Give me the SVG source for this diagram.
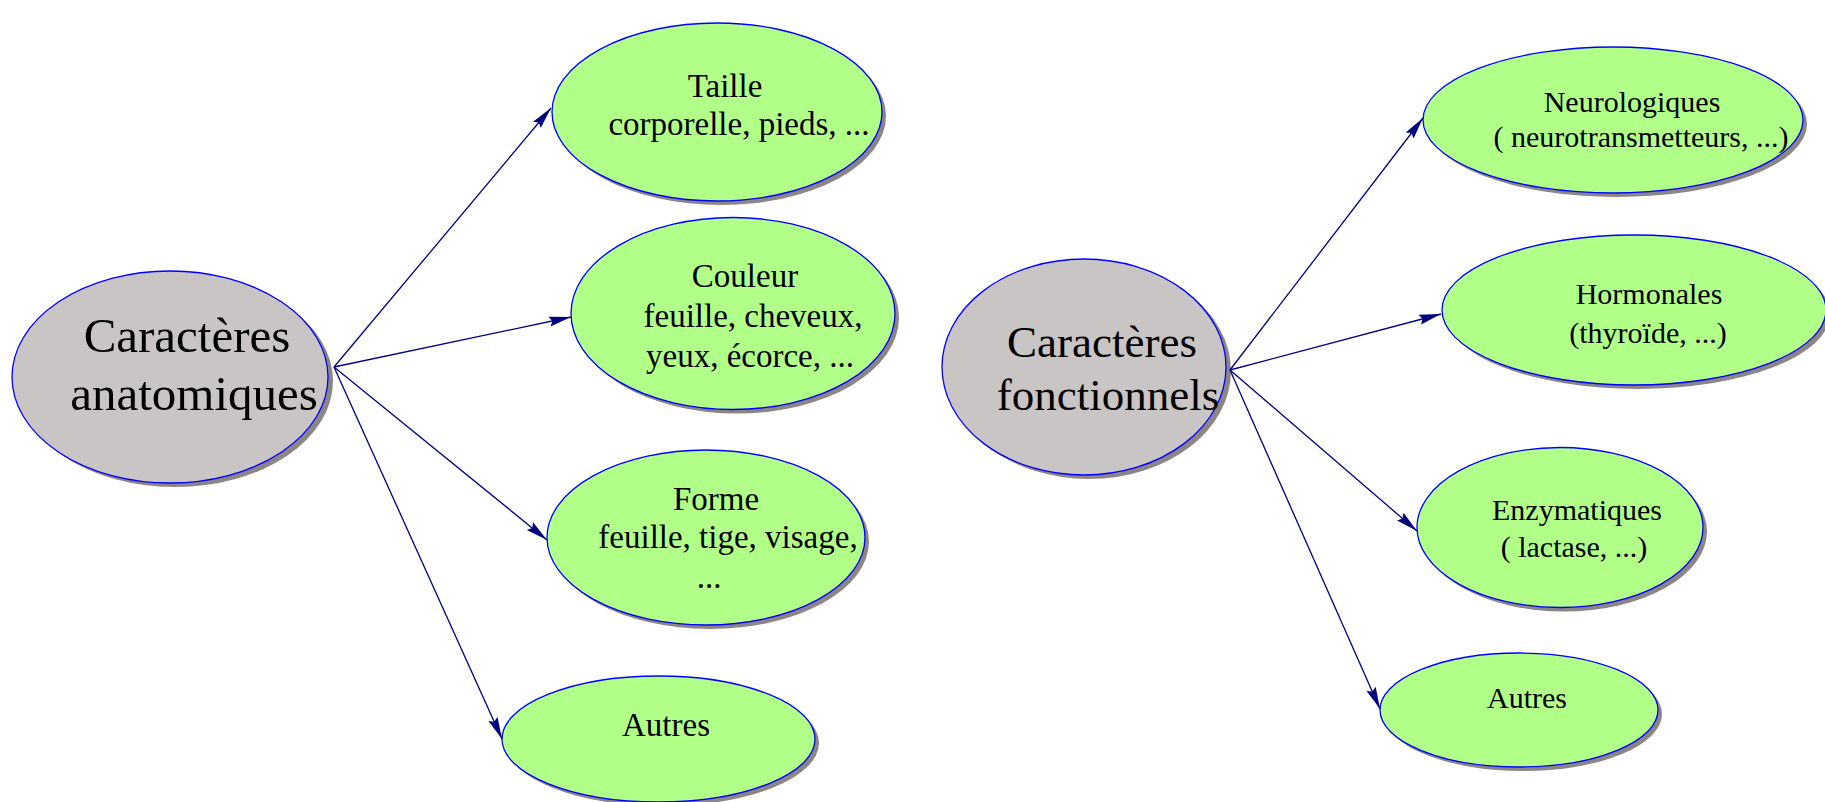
<svg xmlns="http://www.w3.org/2000/svg" width="1825" height="802" viewBox="0 0 1825 802">
<defs>
<style>
.sh{fill:#8c8585;}
.main{fill:#c9c5c5;stroke:#0000ff;stroke-width:1.3;}
.sub{fill:#b1ff88;stroke:#0000ff;stroke-width:1.3;}
text{font-family:"Liberation Serif","Times New Roman",serif;fill:#000;text-anchor:middle;}
.t49{font-size:49px;}
.t45{font-size:45px;}
.t33{font-size:33px;}
.t30{font-size:30px;}
.conn line{stroke:#000080;stroke-width:1.3;marker-end:url(#ah);}
</style>
<marker id="ah" markerUnits="userSpaceOnUse" viewBox="-22 -6 23 12" refX="0" refY="0" markerWidth="23" markerHeight="12" orient="auto">
<path d="M0,0 L-22,-5 L-19,0 L-22,5 Z" fill="#000080"/>
</marker>
</defs>
<rect width="1825" height="802" fill="#ffffff"/>

<g id="n-anatomiques">
<ellipse class="sh" cx="175" cy="381" rx="158" ry="106"/>
<ellipse class="main" cx="170" cy="377" rx="158" ry="106"/>
<text class="t49" x="187" y="352">Caractères</text>
<text class="t49" x="194" y="410">anatomiques</text>
</g>

<g id="n-taille">
<ellipse class="sh" cx="721" cy="116" rx="165" ry="89"/>
<ellipse class="sub" cx="717" cy="112" rx="165" ry="89"/>
<text class="t33" x="725" y="97">Taille</text>
<text class="t33" x="739" y="135">corporelle, pieds, ...</text>
</g>

<g id="n-couleur">
<ellipse class="sh" cx="737" cy="317.5" rx="162" ry="96"/>
<ellipse class="sub" cx="733" cy="313.5" rx="162" ry="96"/>
<text class="t33" x="745" y="287">Couleur</text>
<text class="t33" x="753" y="327">feuille, cheveux,</text>
<text class="t33" x="750" y="367">yeux, écorce, ...</text>
</g>

<g id="n-forme">
<ellipse class="sh" cx="710" cy="541.5" rx="159" ry="87.5"/>
<ellipse class="sub" cx="706" cy="537.5" rx="159" ry="87.5"/>
<text class="t33" x="716" y="510">Forme</text>
<text class="t33" x="728" y="548">feuille, tige, visage,</text>
<text class="t33" x="709" y="588">...</text>
</g>

<g id="n-autres1">
<ellipse class="sh" cx="662.5" cy="743" rx="156.5" ry="63"/>
<ellipse class="sub" cx="658.5" cy="739" rx="156.5" ry="63"/>
<text class="t33" x="666" y="736">Autres</text>
</g>

<g id="n-fonctionnels">
<ellipse class="sh" cx="1089" cy="371" rx="142" ry="108"/>
<ellipse class="main" cx="1084" cy="367" rx="142" ry="108"/>
<text class="t45" x="1102" y="357">Caractères</text>
<text class="t45" x="1108" y="410">fonctionnels</text>
</g>

<g id="n-neuro">
<ellipse class="sh" cx="1617" cy="124" rx="190" ry="73"/>
<ellipse class="sub" cx="1613" cy="120" rx="190" ry="73"/>
<text class="t30" x="1632" y="112">Neurologiques</text>
<text class="t30" x="1641" y="147">( neurotransmetteurs, ...)</text>
</g>

<g id="n-hormo">
<ellipse class="sh" cx="1638" cy="314" rx="192" ry="75"/>
<ellipse class="sub" cx="1634" cy="310" rx="192" ry="75"/>
<text class="t30" x="1649" y="304">Hormonales</text>
<text class="t30" x="1648" y="343">(thyroïde, ...)</text>
</g>

<g id="n-enzy">
<ellipse class="sh" cx="1564" cy="531.5" rx="143" ry="80"/>
<ellipse class="sub" cx="1560" cy="527.5" rx="143" ry="80"/>
<text class="t30" x="1577" y="520">Enzymatiques</text>
<text class="t30" x="1574" y="557">( lactase, ...)</text>
</g>

<g id="n-autres2">
<ellipse class="sh" cx="1523" cy="714" rx="139" ry="57"/>
<ellipse class="sub" cx="1519" cy="710" rx="139" ry="57"/>
<text class="t30" x="1527" y="708">Autres</text>
</g>

<g id="connectors" class="conn">
<line x1="334" y1="367" x2="551" y2="108"/>
<line x1="334" y1="367" x2="571" y2="317"/>
<line x1="334" y1="367" x2="547" y2="540"/>
<line x1="334" y1="367" x2="502" y2="739"/>
<line x1="1230" y1="370" x2="1423" y2="118"/>
<line x1="1230" y1="370" x2="1441" y2="314"/>
<line x1="1230" y1="370" x2="1417" y2="531"/>
<line x1="1230" y1="370" x2="1380" y2="709"/>
</g>
</svg>
